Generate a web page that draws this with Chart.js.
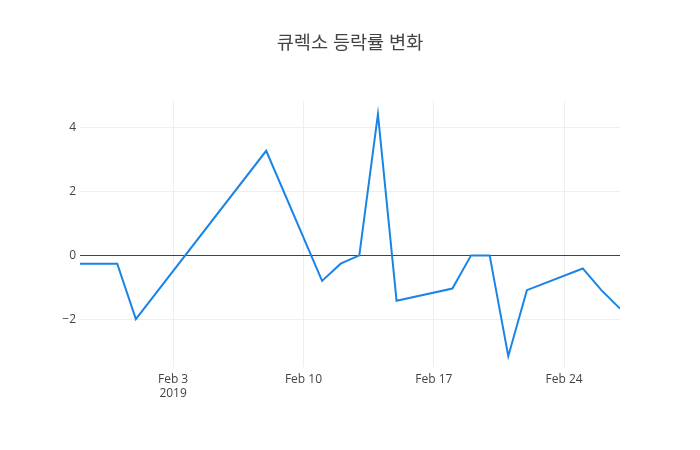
<!DOCTYPE html>
<html>
<head>
<meta charset="utf-8">
<script src="https://cdn.jsdelivr.net/npm/chart.js@4.4.1/dist/chart.umd.min.js"></script>
<style>
  html, body { margin: 0; padding: 0; background: #ffffff; }
  #wrap { width: 700px; height: 450px; }
</style>
</head>
<body>
<div id="wrap"><canvas id="chart" width="700" height="450"></canvas></div>
<script>
// Trading days and daily change rate (%)
const dates = [
  '2019-01-29', '2019-01-30', '2019-01-31', '2019-02-01', '2019-02-08',
  '2019-02-11', '2019-02-12', '2019-02-13', '2019-02-14', '2019-02-15',
  '2019-02-18', '2019-02-19', '2019-02-20', '2019-02-21', '2019-02-22',
  '2019-02-25', '2019-02-26', '2019-02-27'
];
const changeRate = [
  -0.26, -0.26, -0.26, -2.0, 3.28,
  -0.80, -0.26, 0.0, 4.43, -1.42,
  -1.04, 0.0, 0.0, -3.16, -1.09,
  -0.41, -1.09, -1.67
];
const xTickDates = ['2019-02-03', '2019-02-10', '2019-02-17', '2019-02-24'];
const xTickLabels = [['Feb 3', '2019'], ['Feb 10'], ['Feb 17'], ['Feb 24']];
const yTicks = [-2, 0, 2, 4];

const DAY = 24 * 60 * 60 * 1000;
const toDay = (s) => Date.parse(s + 'T00:00:00Z') / DAY;

const points = dates.map((d, i) => ({ x: toDay(d), y: changeRate[i] }));
const xTickValues = xTickDates.map(toDay);

const fontFamily = '"Open Sans", "Noto Sans CJK KR", sans-serif';

new Chart(document.getElementById('chart').getContext('2d'), {
  type: 'line',
  data: {
    datasets: [{
      data: points,
      borderColor: '#1a84e6',
      borderWidth: 2,
      pointRadius: 0,
      pointHoverRadius: 0,
      tension: 0,
      fill: false
    }]
  },
  options: {
    responsive: false,
    animation: false,
    layout: { padding: 0 },
    plugins: {
      legend: { display: false },
      tooltip: { enabled: false },
      title: {
        display: true,
        text: '큐렉소 등락률 변화',
        color: '#444444',
        font: { family: fontFamily, size: 18.6, weight: 'normal' },
        padding: { top: 32.8, bottom: 45.9 }
      }
    },
    scales: {
      x: {
        type: 'linear',
        min: toDay(dates[0]),
        max: toDay(dates[dates.length - 1]),
        afterBuildTicks: (scale) => {
          scale.ticks = xTickValues.map(v => ({ value: v }));
        },
        afterFit: (scale) => { scale.height = 83; },
        border: { display: false },
        grid: { color: '#eeeeee', lineWidth: 1, drawTicks: false },
        ticks: {
          color: '#444444',
          padding: 5,
          maxRotation: 0,
          autoSkip: false,
          font: { family: fontFamily, size: 12 },
          callback: (value) => {
            const i = xTickValues.indexOf(value);
            return i >= 0 ? xTickLabels[i] : '';
          }
        }
      },
      y: {
        min: -3.5,
        max: 4.84,
        afterBuildTicks: (scale) => {
          scale.ticks = yTicks.map(v => ({ value: v }));
        },
        afterFit: (scale) => { scale.width = 80; },
        border: { display: false },
        grid: {
          drawTicks: false,
          lineWidth: 1,
          color: (ctx) => (ctx.tick && ctx.tick.value === 0) ? '#444444' : '#eeeeee'
        },
        ticks: {
          color: '#444444',
          padding: 4,
          font: { family: fontFamily, size: 12 },
          callback: (value) => String(value).replace('-', '\u2212')
        }
      },
      // empty right margin so the plot ends at the same place as the reference
      yRight: {
        position: 'right',
        afterFit: (scale) => { scale.width = 80; },
        border: { display: false },
        grid: { display: false, drawTicks: false },
        ticks: { display: false }
      }
    }
  }
});
</script>
</body>
</html>
